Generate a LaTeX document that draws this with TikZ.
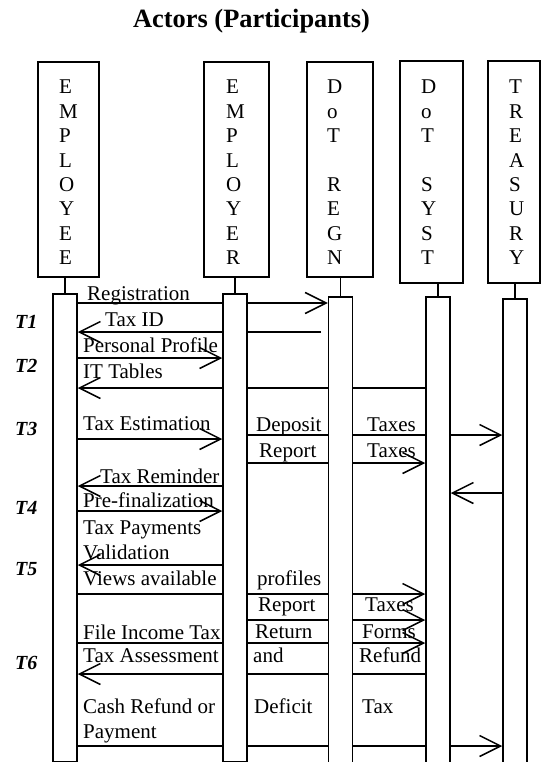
\documentclass[tikz,border=0pt]{standalone}
\usepackage{fontspec}
\setmainfont{Liberation Serif}
\usetikzlibrary{arrows.meta,backgrounds}
\begin{document}
\begin{tikzpicture}[x=1pt,y=-1pt,
  actor/.style={draw, line width=1.5pt, inner sep=0pt},
  actorname/.style={anchor=north west, align=left, inner sep=0pt, font=\fontsize{21}{24.4}\selectfont},
  lifebar/.style={draw, fill=white, line width=1.5pt, minimum width=24pt, minimum height=#1, inner sep=0pt, anchor=north},
  msg/.style={line width=1.5pt, -{Straight Barb[length=21pt,width=21pt]}},
  plain/.style={line width=1.5pt},
  lbl/.style={anchor=base west, inner sep=0pt, font=\fontsize{21}{24}\selectfont},
  tlbl/.style={anchor=base west, inner sep=0pt, font=\fontsize{20}{24}\selectfont\bfseries\itshape},
]
\useasboundingbox (0,0) rectangle (541,762);

% title
\node[anchor=base, inner sep=0pt, font=\fontsize{26.4}{30}\selectfont\bfseries] (title) at (251.5,28) {Actors (Participants)};

% actor boxes
\node[actor, minimum width=61pt, minimum height=215pt] (employee) at (68.5,169.5) {};
\node[actor, minimum width=65pt, minimum height=215pt] (employer) at (236.5,169.5) {};
\node[actor, minimum width=66pt, minimum height=215pt] (dotregn) at (340,169.5) {};
\node[actor, minimum width=63pt, minimum height=222pt] (dotsyst) at (431.5,172) {};
\node[actor, minimum width=52pt, minimum height=222pt] (treasury) at (514,172) {};

\node[actorname] (employeet) at (59,80) {E\\M\\P\\L\\O\\Y\\E\\E};
\node[actorname] (employert) at (226,80) {E\\M\\P\\L\\O\\Y\\E\\R};
\node[actorname] (dotregnt) at (327,80) {D\\o\\T\\\mbox{}\\R\\E\\G\\N};
\node[actorname] (dotsystt) at (421,80) {D\\o\\T\\\mbox{}\\S\\Y\\S\\T};
\node[actorname] (treasuryt) at (509,80) {T\\R\\E\\A\\S\\U\\R\\Y};

% activation bars
\node[lifebar=468pt] (b1) at (65,293) {};
\node[lifebar=468pt] (b2) at (235,293) {};
\node[lifebar=466pt] (b3) at (340.5,296) {};
\node[lifebar=466pt] (b4) at (438,296) {};
\node[lifebar=464pt] (b5) at (515,298) {};

\coordinate (taxidstart) at (321,332);

\begin{scope}[on background layer]
% lifeline stubs
\draw[plain] (b1.north) -- (b1.north |- employee.south);
\draw[plain] (b2.north) -- (b2.north |- employer.south);
\draw[plain] (b3.north) -- (b3.north |- dotregn.south);
\draw[plain] (b4.north) -- (b4.north |- dotsyst.south);
\draw[plain] (b5.north) -- (b5.north |- treasury.south);
% messages
\draw[msg] (b1.east |- 0,303) -- (b3.west |- 0,303);
\draw[msg] (taxidstart) -- (b1.east |- taxidstart);
\draw[msg] (b1.east |- 0,358) -- (b2.west |- 0,358);
\draw[msg] (b4.west |- 0,388) -- (b1.east |- 0,388);
\draw[msg] (b1.east |- 0,439) -- (b2.west |- 0,439);
\draw[msg] (b2.east |- 0,435) -- (b5.west |- 0,435);
\draw[msg] (b2.east |- 0,463) -- (b4.west |- 0,463);
\draw[msg] (b2.west |- 0,486) -- (b1.east |- 0,486);
\draw[msg] (b5.west |- 0,493) -- (b4.east |- 0,493);
\draw[msg] (b1.east |- 0,511) -- (b2.west |- 0,511);
\draw[msg] (b2.west |- 0,565) -- (b1.east |- 0,565);
\draw[msg] (b1.east |- 0,594) -- (b4.west |- 0,594);
\draw[msg] (b2.east |- 0,620) -- (b4.west |- 0,620);
\draw[msg] (b1.east |- 0,643) -- (b4.west |- 0,643);
\draw[msg] (b4.west |- 0,674) -- (b1.east |- 0,674);
\draw[msg] (b1.east |- 0,746) -- (b5.west |- 0,746);
\end{scope}

% message labels
\node[lbl] (l1) at (87,300) {Registration};
\node[lbl] (l2) at (105,326) {Tax ID};
\node[lbl] (l3) at (83,352) {Personal Profile};
\node[lbl] (l4) at (83,378) {IT Tables};
\node[lbl] (l5) at (83,430) {Tax Estimation};
\node[lbl] (l6) at (256,431) {Deposit};
\node[lbl] (l7) at (367,431) {Taxes};
\node[lbl] (l8) at (259,457) {Report};
\node[lbl] (l9) at (367,457) {Taxes};
\node[lbl] (l10) at (100,483) {Tax Reminder};
\node[lbl] (l11) at (83,507) {Pre-finalization};
\node[lbl] (l12) at (83,534) {Tax Payments};
\node[lbl] (l13) at (83,559) {Validation};
\node[lbl] (l14) at (83,585) {Views available};
\node[lbl] (l15) at (257,585) {profiles};
\node[lbl] (l16) at (258,611) {Report};
\node[lbl] (l17) at (365,611) {Taxes};
\node[lbl] (l18) at (83,639) {File Income Tax};
\node[lbl] (l19) at (255,638) {Return};
\node[lbl] (l20) at (362,638) {Forms};
\node[lbl] (l21) at (83,662) {Tax Assessment};
\node[lbl] (l22) at (253,662) {and};
\node[lbl] (l23) at (359,662) {Refund};
\node[lbl] (l24) at (83,713) {Cash Refund or};
\node[lbl] (l25) at (83,738) {Payment};
\node[lbl] (l26) at (254,713) {Deficit};
\node[lbl] (l27) at (362,713) {Tax};

% phase labels
\node[tlbl] (t1) at (15,328) {T1};
\node[tlbl] (t2) at (15,372) {T2};
\node[tlbl] (t3) at (15,435) {T3};
\node[tlbl] (t4) at (15,514) {T4};
\node[tlbl] (t5) at (15,575) {T5};
\node[tlbl] (t6) at (15,669) {T6};
\end{tikzpicture}
\end{document}
